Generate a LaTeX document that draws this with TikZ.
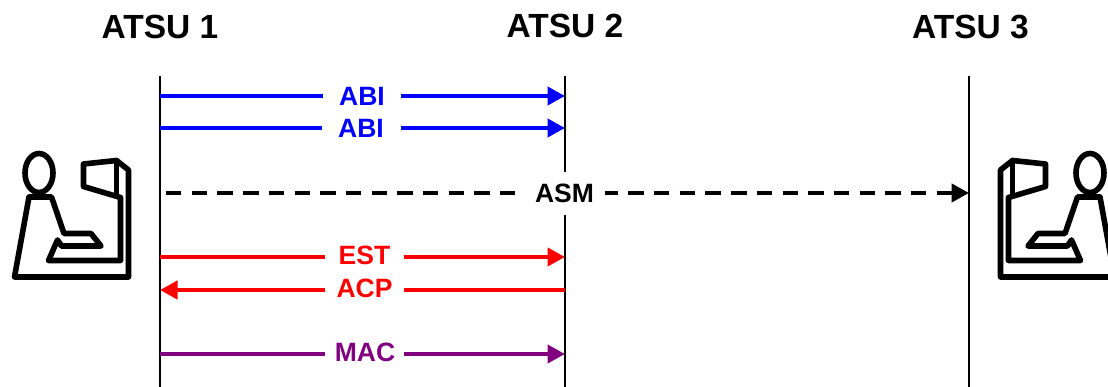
\documentclass[tikz,border=0pt]{standalone}
\usepackage{fontspec}
\setmainfont{Liberation Sans}
\usetikzlibrary{arrows.meta}
\definecolor{msgblue}{RGB}{0,0,255}
\definecolor{msgred}{RGB}{255,0,0}
\definecolor{msgpurple}{RGB}{128,0,128}
\tikzset{
  x=1pt,y=-1pt,
  title/.style={font=\fontsize{33.5}{34}\selectfont\bfseries,inner sep=0pt,anchor=center},
  msglabel/.style={font=\fontsize{26.5}{27}\selectfont\bfseries,inner sep=0pt,anchor=center},
  lifeline/.style={draw=black,line width=2.8pt},
  msg/.style={line width=4.4pt},
  tip/.style={-{Triangle[length=17.5pt,width=18pt]}},
  iconline/.style={draw=black,line width=5.6pt,line join=round,line cap=round},
}
\newcommand{\operatoricon}{%
  \draw[iconline] (39,173) ellipse (14 and 19.5);
  \draw[iconline] (29,197) -- (14.5,277) -- (128.5,277) -- (128.5,170) -- (116.5,160.5) -- (83.5,164) -- (83.5,186.5) -- (120.5,197.5) -- (120.5,260.5) -- (48.5,260.5) -- (57.5,240) -- (61.5,246) -- (101,246) -- (91,233.5) -- (64,233.5) -- (51.5,197) -- cycle;
  \draw[iconline] (116.5,160.5) -- (116.5,195);
}
\begin{document}
\begin{tikzpicture}
\useasboundingbox (0,0) rectangle (1108,387);
\fill[white] (0,0) rectangle (1108,387);
\node[title] (t1) at (160,27) {ATSU 1};
\node[title] (t2) at (565,26) {ATSU 2};
\node[title] (t3) at (970.5,27) {ATSU 3};
\coordinate (l1a) at (160,76); \coordinate (l1b) at (160,387);
\coordinate (l2a) at (565,76); \coordinate (l2b) at (565,172);
\coordinate (l2c) at (565,215); \coordinate (l2d) at (565,387);
\coordinate (l3a) at (969,76); \coordinate (l3b) at (969,387);
\draw[lifeline] (l1a) -- (l1b);
\draw[lifeline] (l2a) -- (l2b);
\draw[lifeline] (l2c) -- (l2d);
\draw[lifeline] (l3a) -- (l3b);
\node[msglabel,text=msgblue] (abi1) at (362,96) {ABI};
\node[msglabel,text=msgblue] (abi2) at (361,128) {ABI};
\node[msglabel,text=black] (asm) at (564.5,193) {ASM};
\node[msglabel,text=msgred] (est) at (364.5,255) {EST};
\node[msglabel,text=msgred] (acp) at (364.5,288) {ACP};
\node[msglabel,text=msgpurple] (mac) at (365,352) {MAC};
\draw[msg,msgblue] (l1a |- abi1) -- ([xshift=-39pt]abi1.center);
\draw[msg,msgblue,tip] ([xshift=39pt]abi1.center) -- (l2a |- abi1);
\draw[msg,msgblue] (l1a |- abi2) -- ([xshift=-39pt]abi2.center);
\draw[msg,msgblue,tip] ([xshift=40pt]abi2.center) -- (l2a |- abi2);
\draw[msg,black,dash pattern=on 15.4pt off 10.3pt] ([xshift=6pt]l1a |- asm) -- ([xshift=-49.5pt]asm.center);
\draw[msg,black,dash pattern=on 15.4pt off 10.3pt,dash phase=2.4pt] ([xshift=40.5pt]asm.center) -- ([xshift=-33pt]l3a |- asm);
\draw[msg,black,tip] ([xshift=-32.3pt]l3a |- asm) -- (l3a |- asm);
\draw[msg,msgred] (l1a |- 0,257) -- (325,257);
\draw[msg,msgred,tip] (404,257) -- (l2a |- 0,257);
\draw[msg,msgred,tip] (325,290) -- (l1a |- 0,290);
\draw[msg,msgred] (404,290) -- (l2a |- 0,290);
\draw[msg,msgpurple] (l1a |- 0,354) -- (325,354);
\draw[msg,msgpurple,tip] (404,354) -- (l2a |- 0,354);
\operatoricon
\begin{scope}[xshift=1129pt,xscale=-1]
\operatoricon
\end{scope}
\end{tikzpicture}
\end{document}
